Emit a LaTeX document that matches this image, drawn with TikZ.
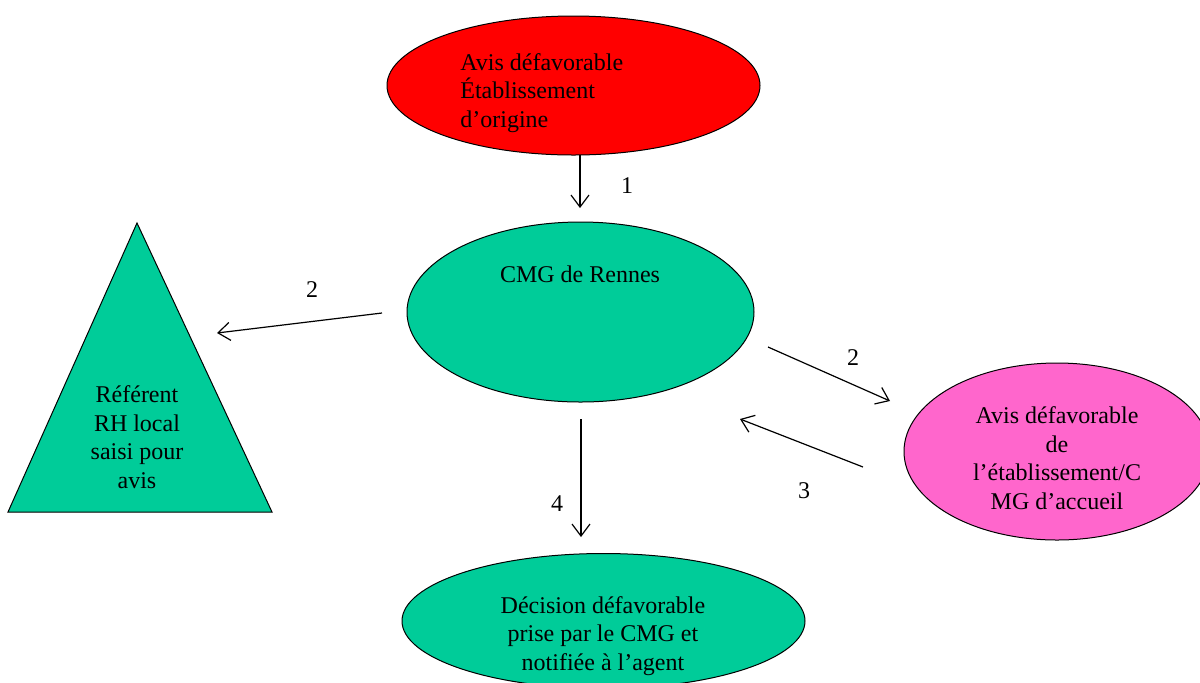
\documentclass[tikz,border=0pt]{standalone}
\usepackage{fontspec}
\setmainfont{Liberation Serif}
\usetikzlibrary{shapes.geometric,arrows.meta}
\definecolor{avisred}{HTML}{FF0000}
\definecolor{cmggreen}{HTML}{00CC99}
\definecolor{accueilpink}{HTML}{FF66CC}
\begin{document}
\begin{tikzpicture}
[x=0.5pt,y=-0.5pt,
  ellipsedecorate/.style={shape=ellipse,draw,inner sep=0pt,line width=0.5pt},%
  textdecorate/.style={font=\fontsize{12}{14.25}\selectfont,align=center,inner sep=0pt},%
  linedecorate/.style={-{Straight Barb[length=6pt,width=9pt]},line width=0.6pt}]
\useasboundingbox (0,0) rectangle (1200,682);
%% shapes
\node (origine) at (573.5,85.5) [ellipsedecorate,fill=avisred,
  minimum width=186.5pt,minimum height=69.5pt] {};
\node (cmg) at (580.5,312) [ellipsedecorate,fill=cmggreen,
  minimum width=173.5pt,minimum height=90pt] {};
\node (accueil) at (1057,451.5) [ellipsedecorate,fill=accueilpink,
  minimum width=153pt,minimum height=88.5pt] {};
\node (decision) at (603.5,621) [ellipsedecorate,fill=cmggreen,
  minimum width=201.5pt,minimum height=67.5pt] {};
\filldraw[fill=cmggreen,line width=0.5pt] (137,223) -- (8,512) -- (272,512) -- cycle;
%% texts
\node (origine text) at (460,93) [textdecorate,align=left,anchor=west]
  {Avis défavorable\\Établissement\\d’origine};
\node (cmg text) at (580,282) [textdecorate,anchor=base] {CMG de Rennes};
\node (referent text) at (137,437) [textdecorate]
  {Référent\\RH local\\saisi pour\\avis};
\node (accueil text) at (1057,458) [textdecorate]
  {Avis défavorable\\de\\l’établissement/C\\MG d’accueil};
\node (decision text) at (603,636) [textdecorate]
  {Décision défavorable\\prise par le CMG et\\notifiée à l’agent};
%% arrow ends
\foreach \pointname/\x/\y in {
  a1s/580/155, a1e/580/208,
  a2s/382/313, a2e/217/333,
  b2s/768/347, b2e/890/401,
  a3s/863/467, a3e/740/419,
  a4s/581/419, a4e/581/537}
{
  \coordinate (\pointname) at (\x,\y);
}
%% arrows
\path
\foreach \startnode/\endnode in {a1s/a1e, a2s/a2e, b2s/b2e, a3s/a3e, a4s/a4e}
{
  (\startnode) edge[linedecorate] (\endnode)
};
%% step numbers
\foreach \labname/\x/\y/\txt in {
  lab1/627/186/1, lab2/312/290/2, lbb2/853/358/2,
  lab3/804/491/3, lab4/557/504/4}
{
  \node (\labname) at (\x,\y) [textdecorate] {\txt};
}
\end{tikzpicture}
\end{document}
